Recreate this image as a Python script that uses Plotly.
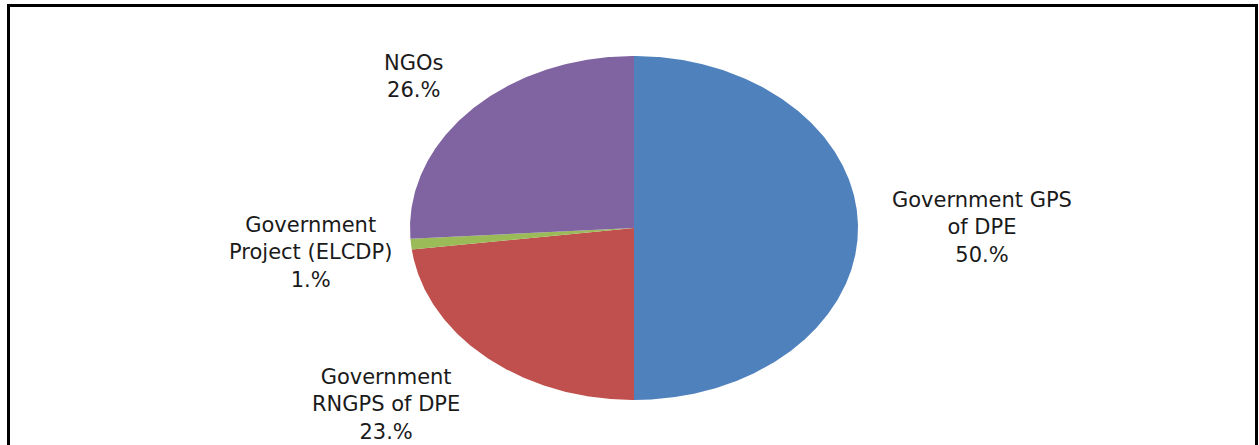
import numpy as np
import plotly.graph_objects as go

# Share of schools by provider
categories = ["Government GPS<br>of DPE", "Government<br>RNGPS of DPE",
              "Government<br>Project (ELCDP)", "NGOs"]
values = [50, 23, 1, 26]
colors = ["#4F81BD", "#C0504D", "#9BBB59", "#8064A2"]

W, H = 1259, 445
# pie geometry in pixels (centre and radii of the squashed disc)
CX, CY, RX, RY = 634, 228, 224, 172

# label anchor points (pixels) for each category
label_px = [(982, 228), (386, 404), (310, 252), (413, 76)]

fig = go.Figure()

total = float(sum(values))
start = 0.0
for cat, val, col in zip(categories, values, colors):
    frac = val / total
    t = np.linspace(start, start + frac, max(3, int(frac * 720))) * 2 * np.pi
    # angles run clockwise from twelve o'clock
    xs = np.concatenate([[0.0], np.sin(t), [0.0]])
    ys = np.concatenate([[0.0], np.cos(t), [0.0]])
    fig.add_trace(go.Scatter(
        x=xs, y=ys, mode="lines", fill="toself", fillcolor=col,
        line=dict(width=0, color=col), hoverinfo="skip", showlegend=False,
    ))
    start += frac

# axis ranges so that one data unit equals RX px horizontally and RY px vertically
fig.update_xaxes(range=[-CX / RX, (W - CX) / RX], visible=False, fixedrange=True)
fig.update_yaxes(range=[-(H - CY) / RY, CY / RY], visible=False, fixedrange=True)

for cat, val, (px, py) in zip(categories, values, label_px):
    fig.add_annotation(
        x=px / W, y=1 - py / H, xref="paper", yref="paper",
        text=f"{cat}<br>{val}.%", showarrow=False, align="center",
        xanchor="center", yanchor="middle",
        font=dict(family="DejaVu Sans", size=21, color="#1a1a1a"),
    )

# chart frame
fig.add_shape(type="rect", xref="paper", yref="paper",
              x0=8.5 / W, x1=1256.5 / W, y0=-0.05, y1=1 - 5.5 / H,
              line=dict(color="black", width=3), fillcolor="rgba(0,0,0,0)")

fig.update_layout(
    width=W, height=H, margin=dict(l=0, r=0, t=0, b=0),
    paper_bgcolor="white", plot_bgcolor="white",
)

fig.write_html("out.html")
